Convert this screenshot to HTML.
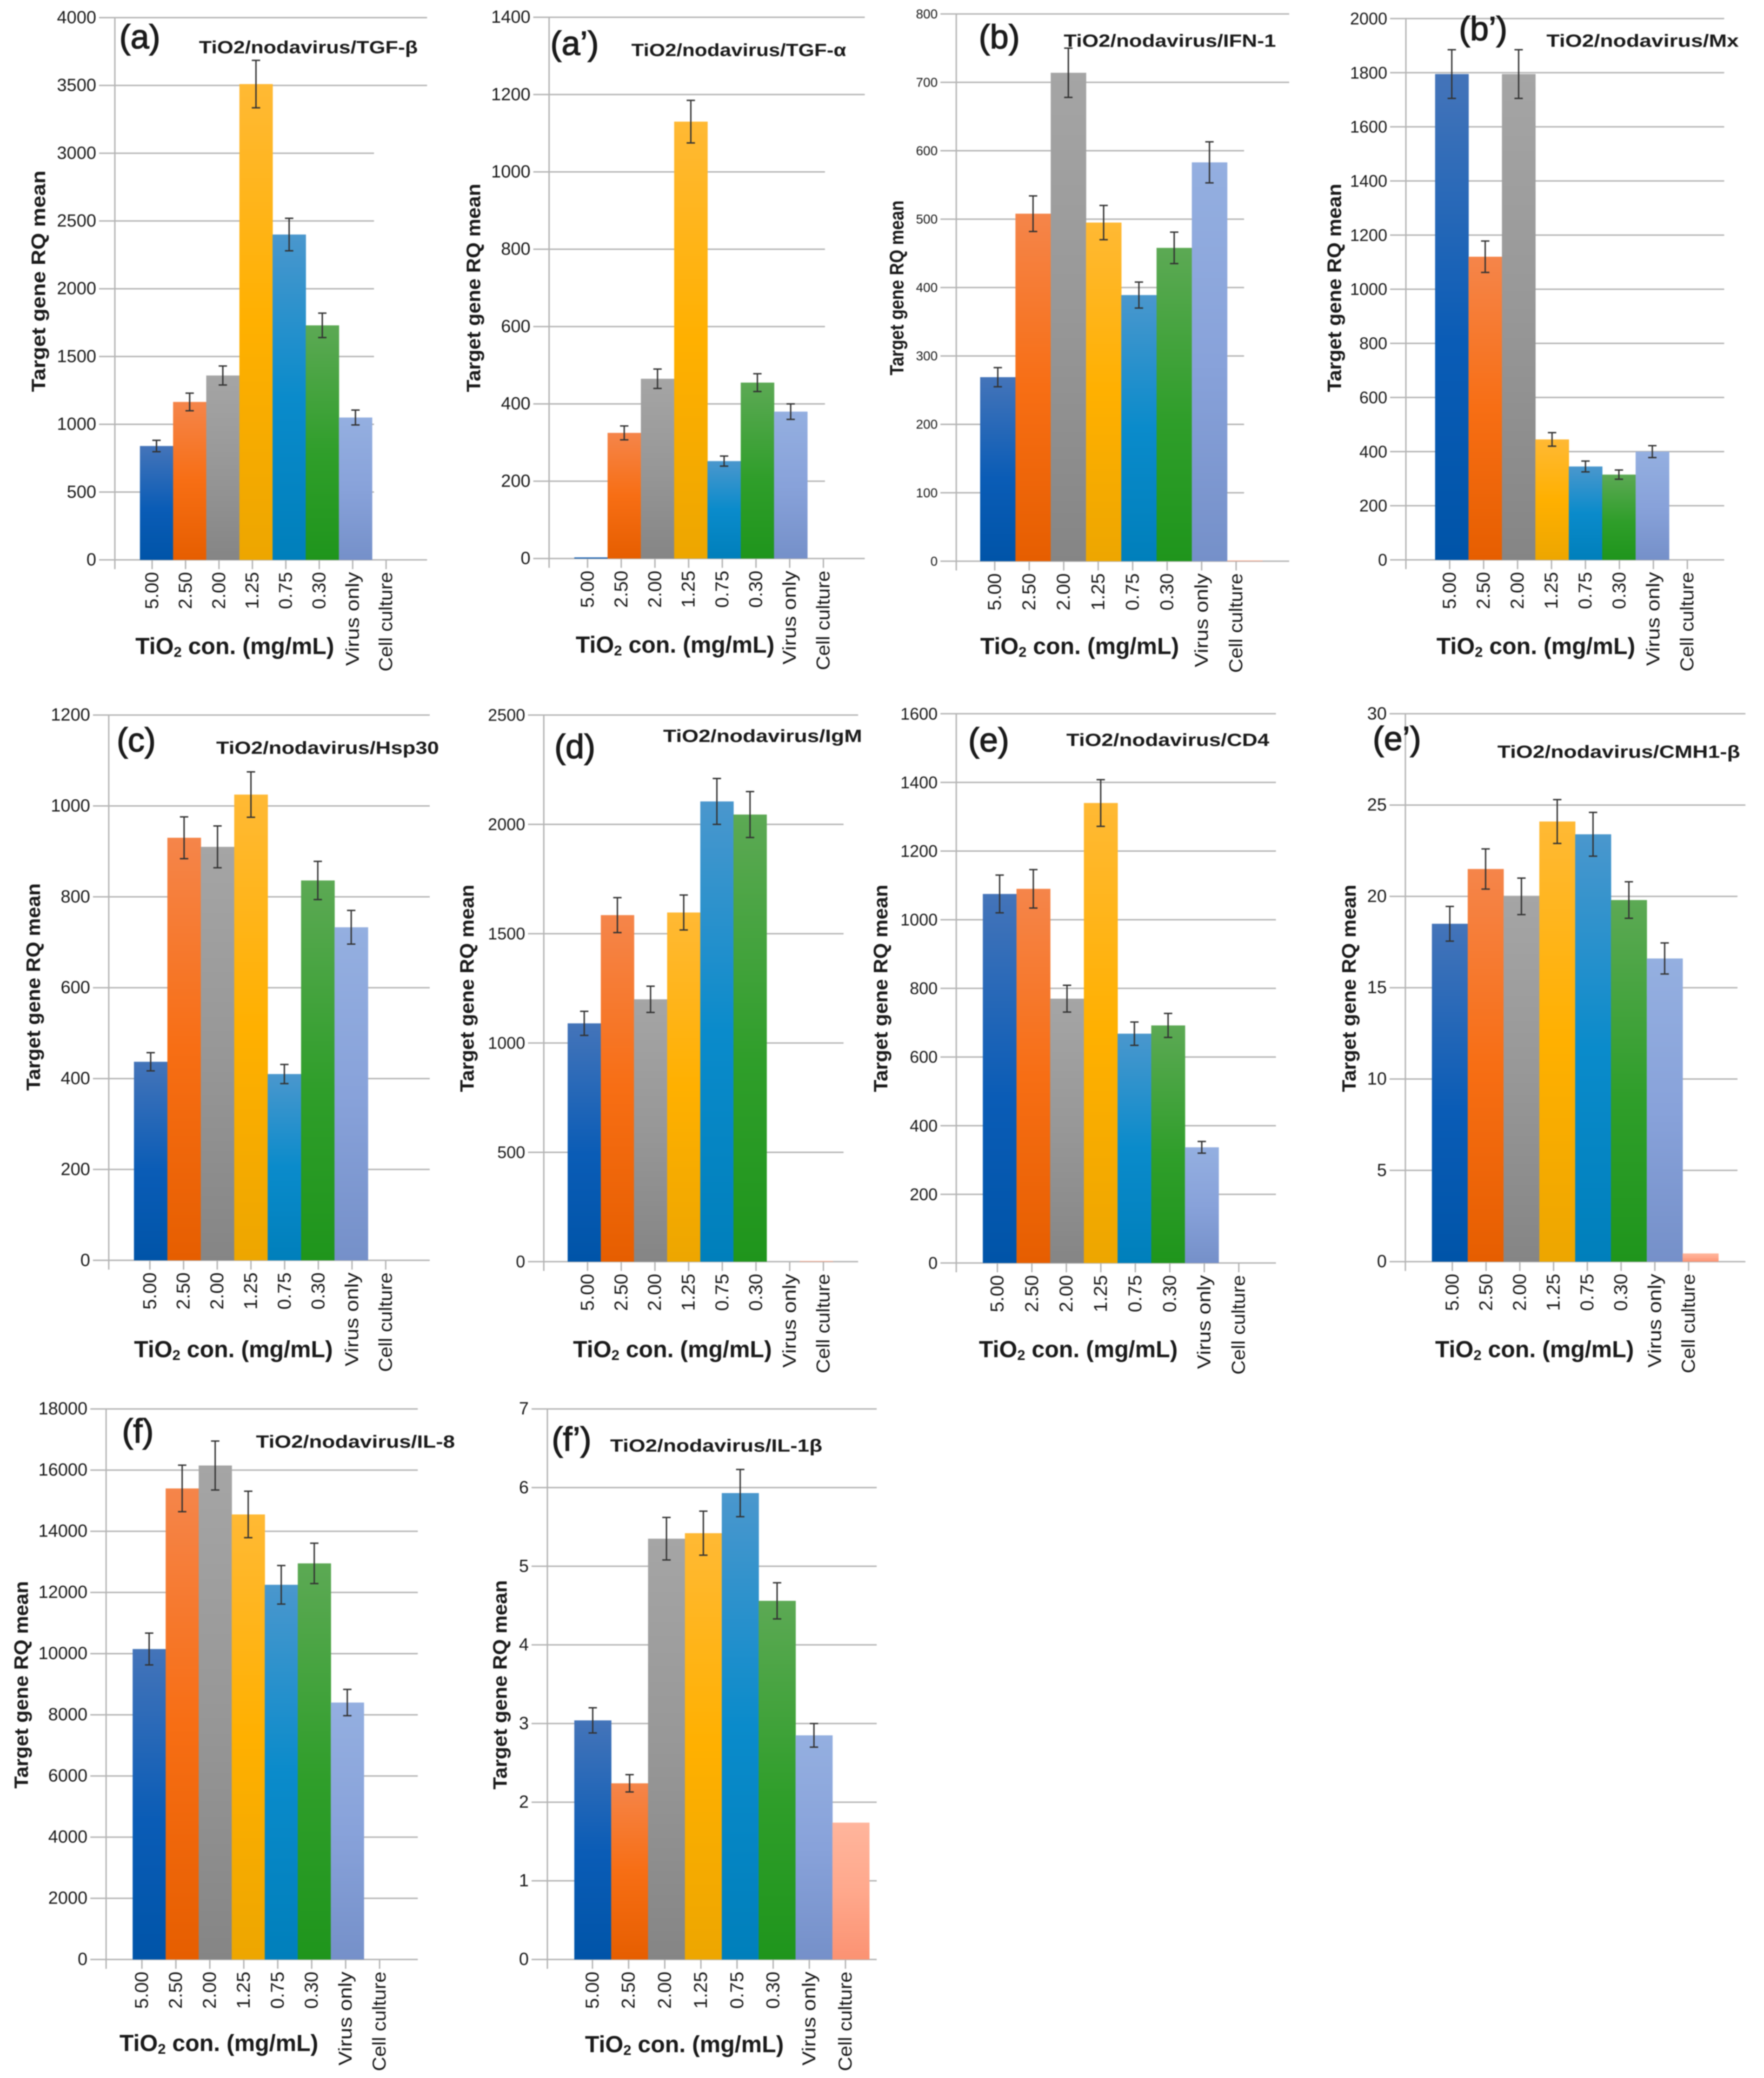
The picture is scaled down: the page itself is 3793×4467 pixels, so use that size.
<!DOCTYPE html>
<html lang="en">
<head>
<meta charset="utf-8">
<title>TiO2/nodavirus target gene RQ mean panels</title>
<style>
html,body{margin:0;padding:0;background:#fff}
svg{display:block;filter:blur(1.2px)}
text{font-family:"Liberation Sans",sans-serif;fill:#1a1a1a}
</style>
</head>
<body>
<svg id="figure" xmlns="http://www.w3.org/2000/svg" width="3793" height="4467" viewBox="0 0 3793 4467">
<defs>
<linearGradient id="g0" x1="0" y1="0" x2="0" y2="1"><stop offset="0" stop-color="#4474b9"/><stop offset=".55" stop-color="#0a5cb6"/><stop offset="1" stop-color="#0054a8"/></linearGradient>
<linearGradient id="g1" x1="0" y1="0" x2="0" y2="1"><stop offset="0" stop-color="#f5854a"/><stop offset=".5" stop-color="#f76e14"/><stop offset="1" stop-color="#e65e00"/></linearGradient>
<linearGradient id="g2" x1="0" y1="0" x2="0" y2="1"><stop offset="0" stop-color="#a5a5a5"/><stop offset=".5" stop-color="#979797"/><stop offset="1" stop-color="#858585"/></linearGradient>
<linearGradient id="g3" x1="0" y1="0" x2="0" y2="1"><stop offset="0" stop-color="#ffb934"/><stop offset=".5" stop-color="#ffb000"/><stop offset="1" stop-color="#eda600"/></linearGradient>
<linearGradient id="g4" x1="0" y1="0" x2="0" y2="1"><stop offset="0" stop-color="#4a97cd"/><stop offset=".5" stop-color="#0a8bcb"/><stop offset="1" stop-color="#007fbb"/></linearGradient>
<linearGradient id="g5" x1="0" y1="0" x2="0" y2="1"><stop offset="0" stop-color="#5ca954"/><stop offset=".55" stop-color="#2f9e2a"/><stop offset="1" stop-color="#1f951c"/></linearGradient>
<linearGradient id="g6" x1="0" y1="0" x2="0" y2="1"><stop offset="0" stop-color="#94afe0"/><stop offset=".5" stop-color="#88a2da"/><stop offset="1" stop-color="#7590c9"/></linearGradient>
<linearGradient id="g7" x1="0" y1="0" x2="0" y2="1"><stop offset="0" stop-color="#ffb59c"/><stop offset=".5" stop-color="#ffa88c"/><stop offset="1" stop-color="#fb9272"/></linearGradient>
</defs>
</svg>
<script>
// Shared category labels
const categories = ["5.00", "2.50", "2.00", "1.25", "0.75", "0.30", "Virus only", "Cell culture"];

// Series values and error half-widths, one pair per panel
const valuesA = [840, 1165, 1360, 3510, 2400, 1730, 1050, 0];
const errorsA = [42, 65, 70, 175, 120, 90, 55, 0];
const valuesA2 = [3, 325, 465, 1130, 252, 455, 380, 0];
const errorsA2 = [0, 18, 25, 55, 13, 23, 20, 0];
const valuesB = [269, 508, 714, 495, 389, 458, 583, 1];
const errorsB = [14, 26, 36, 25, 19, 23, 30, 0];
const valuesB2 = [1795, 1120, 1795, 445, 345, 315, 400, 0];
const errorsB2 = [90, 58, 90, 25, 20, 17, 22, 0];
const valuesC = [437, 930, 910, 1025, 410, 836, 733, 0];
const errorsC = [20, 46, 46, 50, 21, 42, 37, 0];
const valuesD = [1090, 1585, 1200, 1597, 2105, 2045, 0, 3];
const errorsD = [55, 80, 60, 80, 105, 105, 0, 0];
const valuesE = [1075, 1090, 770, 1340, 668, 692, 337, 0];
const errorsE = [55, 56, 39, 68, 34, 35, 17, 0];
const valuesE2 = [18.5, 21.5, 20, 24.1, 23.4, 19.8, 16.6, 0.45];
const errorsE2 = [0.95, 1.1, 1, 1.2, 1.2, 1, 0.85, 0];
const valuesF = [10150, 15400, 16150, 14550, 12250, 12950, 8400, 0];
const errorsF = [520, 760, 800, 760, 630, 660, 430, 0];
const valuesF2 = [3.04, 2.24, 5.35, 5.42, 5.93, 4.56, 2.85, 1.74];
const errorsF2 = [0.16, 0.11, 0.27, 0.28, 0.3, 0.23, 0.15, 0];

// Y tick labels per panel
const ticksA = [0, 500, 1000, 1500, 2000, 2500, 3000, 3500, 4000];
const ticksA2 = [0, 200, 400, 600, 800, 1000, 1200, 1400];
const ticksB = [0, 100, 200, 300, 400, 500, 600, 700, 800];
const ticksB2 = [0, 200, 400, 600, 800, 1000, 1200, 1400, 1600, 1800, 2000];
const ticksC = [0, 200, 400, 600, 800, 1000, 1200];
const ticksD = [0, 500, 1000, 1500, 2000, 2500];
const ticksE = [0, 200, 400, 600, 800, 1000, 1200, 1400, 1600];
const ticksE2 = [0, 5, 10, 15, 20, 25, 30];
const ticksF = [0, 2000, 4000, 6000, 8000, 10000, 12000, 14000, 16000, 18000];
const ticksF2 = [0, 1, 2, 3, 4, 5, 6, 7];

// Panel layout, in 1330-wide overview units (scaled by S below)
const S = 3793 / 1330;
const panels = [
 {id:"a", letter:"(a)", gene:"TGF-β", values:valuesA, errors:errorsA, ticks:ticksA, axis:86.6, right:322, top:13.3, bot:422, bar0:105.5, barW:25, tick0:114.7, tickStep:25.2, shortLo:500, shortHi:3000, shortRight:282, lx:90, ly:28, tx:150, ty:36, tw:165, yx:29, yy:212, xx:177, xy:487, tf:38, yLen:476},
 {id:"a-prime", letter:"(a’)", gene:"TGF-α", values:valuesA2, errors:errorsA2, ticks:ticksA2, axis:414, right:652, top:13, bot:421, bar0:433, barW:25.1, tick0:443, tickStep:25.4, shortLo:0.5, shortHi:1000, shortRight:622, lx:415, ly:33, tx:476, ty:38, tw:162, yx:357, yy:217, xx:509, xy:486, tf:38, yLen:448},
 {id:"b", letter:"(b)", gene:"IFN-1", values:valuesB, errors:errorsB, ticks:ticksB, axis:721, right:972, top:10.5, bot:423, bar0:739, barW:26.6, tick0:750, tickStep:26, shortLo:100, shortHi:600, shortRight:938, lx:738, ly:28, tx:802, ty:31, tw:160, yx:676, yy:217, xx:814, xy:487, tf:28, yLen:376},
 {id:"b-prime", letter:"(b’)", gene:"Mx", values:valuesB2, errors:errorsB2, ticks:ticksB2, axis:1060, right:1300, top:14, bot:422, bar0:1082, barW:25.2, tick0:1093, tickStep:25.6, shortLo:1, shortHi:0, shortRight:1300, lx:1100, ly:22, tx:1166, ty:31, tw:145, yx:1006, yy:217, xx:1158, xy:487, tf:36, yLen:448},
 {id:"c", letter:"(c)", gene:"Hsp30", values:valuesC, errors:errorsC, ticks:ticksC, axis:82, right:324, top:539, bot:950, bar0:101, barW:25.2, tick0:113, tickStep:25.4, shortLo:1, shortHi:0, shortRight:324, lx:88, ly:558, tx:163, ty:564, tw:168, yx:25, yy:744, xx:176, xy:1017, tf:38, yLen:446},
 {id:"d", letter:"(d)", gene:"IgM", values:valuesD, errors:errorsD, ticks:ticksD, axis:410, right:647, top:539, bot:951, bar0:428, barW:25, tick0:443, tickStep:25.4, shortLo:500, shortHi:2000, shortRight:636, lx:418, ly:563, tx:500, ty:555, tw:150, yx:352, yy:745, xx:507, xy:1017, tf:36, yLen:446},
 {id:"e", letter:"(e)", gene:"CD4", values:valuesE, errors:errorsE, ticks:ticksE, axis:721, right:962, top:538, bot:952, bar0:741, barW:25.4, tick0:752, tickStep:26, shortLo:1, shortHi:0, shortRight:962, lx:730, ly:558, tx:804, ty:558, tw:153, yx:664, yy:745, xx:813, xy:1017, tf:36, yLen:446},
 {id:"e-prime", letter:"(e’)", gene:"CMH1-β", values:valuesE2, errors:errorsE2, ticks:ticksE2, axis:1059.6, right:1316, top:538, bot:951, bar0:1079.6, barW:27, tick0:1095, tickStep:25.45, shortLo:5, shortHi:20, shortRight:1310, lx:1035, ly:557, tx:1129, ty:567, tw:183, yx:1017, yy:745, xx:1157, xy:1017, tf:38, yLen:446},
 {id:"f", letter:"(f)", gene:"IL-8", values:valuesF, errors:errorsF, ticks:ticksF, axis:80, right:315, top:1062, bot:1477, bar0:100, barW:24.9, tick0:107, tickStep:25.6, shortLo:1, shortHi:0, shortRight:315, lx:92, ly:1079, tx:193, ty:1087, tw:150, yx:16, yy:1270, xx:165, xy:1540, tf:38, yLen:446},
 {id:"f-prime", letter:"(f’)", gene:"IL-1β", values:valuesF2, errors:errorsF2, ticks:ticksF2, axis:412.7, right:661, top:1062, bot:1477, bar0:433, barW:27.8, tick0:446.7, tickStep:27.25, shortLo:1, shortHi:0, shortRight:661, lx:416, ly:1085, tx:460, ty:1090, tw:160, yx:377, yy:1270, xx:516, xy:1541, tf:38, yLen:450}
];

const NS = "http://www.w3.org/2000/svg";
const root = document.getElementById("figure");
function make(tag, attrs, parent, txt) {
  const el = document.createElementNS(NS, tag);
  for (const k in attrs) el.setAttribute(k, attrs[k]);
  if (txt !== undefined) el.textContent = txt;
  parent.appendChild(el);
  return el;
}
function drawPanel(p) {
  const yMax = p.ticks[p.ticks.length - 1];
  const scaleY = function (v) { return S * (p.bot - (p.bot - p.top) * v / yMax); };
  const tickX = function (i) { return S * (p.tick0 + i * p.tickStep); };
  const barX = function (i) { return S * (p.bar0 + i * p.barW); };
  const barW = S * p.barW;
  const axisX = S * p.axis;
  const rightX = S * p.right;
  const y0 = scaleY(0);

  const g = make("g", {}, root);
  
  

  p.ticks.forEach(function (v) {
    const isShort = v >= p.shortLo && v <= p.shortHi;
    const line = make("line", {x1: axisX - 34, x2: isShort ? S * p.shortRight : rightX, y1: scaleY(v), y2: scaleY(v), stroke: "#b4b4b4", "stroke-width": 3}, g);
    
    
    const lab = make("text", {x: axisX - 40, y: scaleY(v), "text-anchor": "end", "dominant-baseline": "central", "font-size": p.tf}, g, String(v));
    
    
  });

  const yAxis = make("line", {x1: axisX, x2: axisX, y1: scaleY(yMax), y2: y0 + 20, stroke: "#b4b4b4", "stroke-width": 3}, g);
  
  

  categories.forEach(function (c, i) {
    const t = make("line", {x1: tickX(i), x2: tickX(i), y1: y0, y2: y0 + 20, stroke: "#b4b4b4", "stroke-width": 3}, g);
    
    
    if (p.values[i] > 0) {
      const r = make("rect", {x: barX(i), y: scaleY(p.values[i]), width: barW + 0.5, height: y0 - scaleY(p.values[i]), fill: "url(#g" + i + ")"}, g);
      
      
    }
  });

  categories.forEach(function (c, i) {
    if (p.errors[i] > 0) {
      const cx = barX(i) + barW / 2;
      const hi = scaleY(p.values[i] + p.errors[i]);
      const lo = scaleY(p.values[i] - p.errors[i]);
      const e = make("path", {d: "M" + (cx - 9) + " " + hi + "H" + (cx + 9) + "M" + cx + " " + hi + "V" + lo + "M" + (cx - 9) + " " + lo + "H" + (cx + 9), stroke: "#333", "stroke-width": 3, fill: "none"}, g);
      
      
    }
    const len = c.length === 4 ? 80 : (c === "Virus only" ? 202 : 214);
    const tx = tickX(i);
    const ty = y0 + 26;
    const lab = make("text", {x: tx, y: ty, transform: "rotate(-90 " + tx + " " + ty + ")", "text-anchor": "end", "dominant-baseline": "central", "font-size": 40, textLength: len, lengthAdjust: "spacingAndGlyphs"}, g, c);
    
    
  });

  const letter = make("text", {x: S * p.lx, y: S * p.ly, "dominant-baseline": "central", "font-size": 72, stroke: "#1a1a1a", "stroke-width": 1.6}, g, p.letter);
  
  

  const title = make("text", {x: S * p.tx, y: S * p.ty, "dominant-baseline": "central", "font-size": 38, "font-weight": "bold", textLength: S * p.tw, lengthAdjust: "spacingAndGlyphs"}, g, "TiO2/nodavirus/" + p.gene);
  
  

  const yx = S * p.yx, yy = S * p.yy;
  const yTitle = make("text", {x: yx, y: yy, transform: "rotate(-90 " + yx + " " + yy + ")", "text-anchor": "middle", "dominant-baseline": "central", "font-size": 42, "font-weight": "bold", textLength: p.yLen, lengthAdjust: "spacingAndGlyphs"}, g, "Target gene RQ mean");
  
  

  const xTitle = make("text", {x: S * p.xx, y: S * p.xy, "text-anchor": "middle", "dominant-baseline": "central", "font-size": 50, "font-weight": "bold"}, g);
  
  
  make("tspan", {}, xTitle, "TiO");
  make("tspan", {dy: 12, "font-size": 31}, xTitle, "2");
  make("tspan", {dy: -12}, xTitle, " con. (mg/mL)");
}
panels.forEach(drawPanel);
</script>
</body>
</html>
